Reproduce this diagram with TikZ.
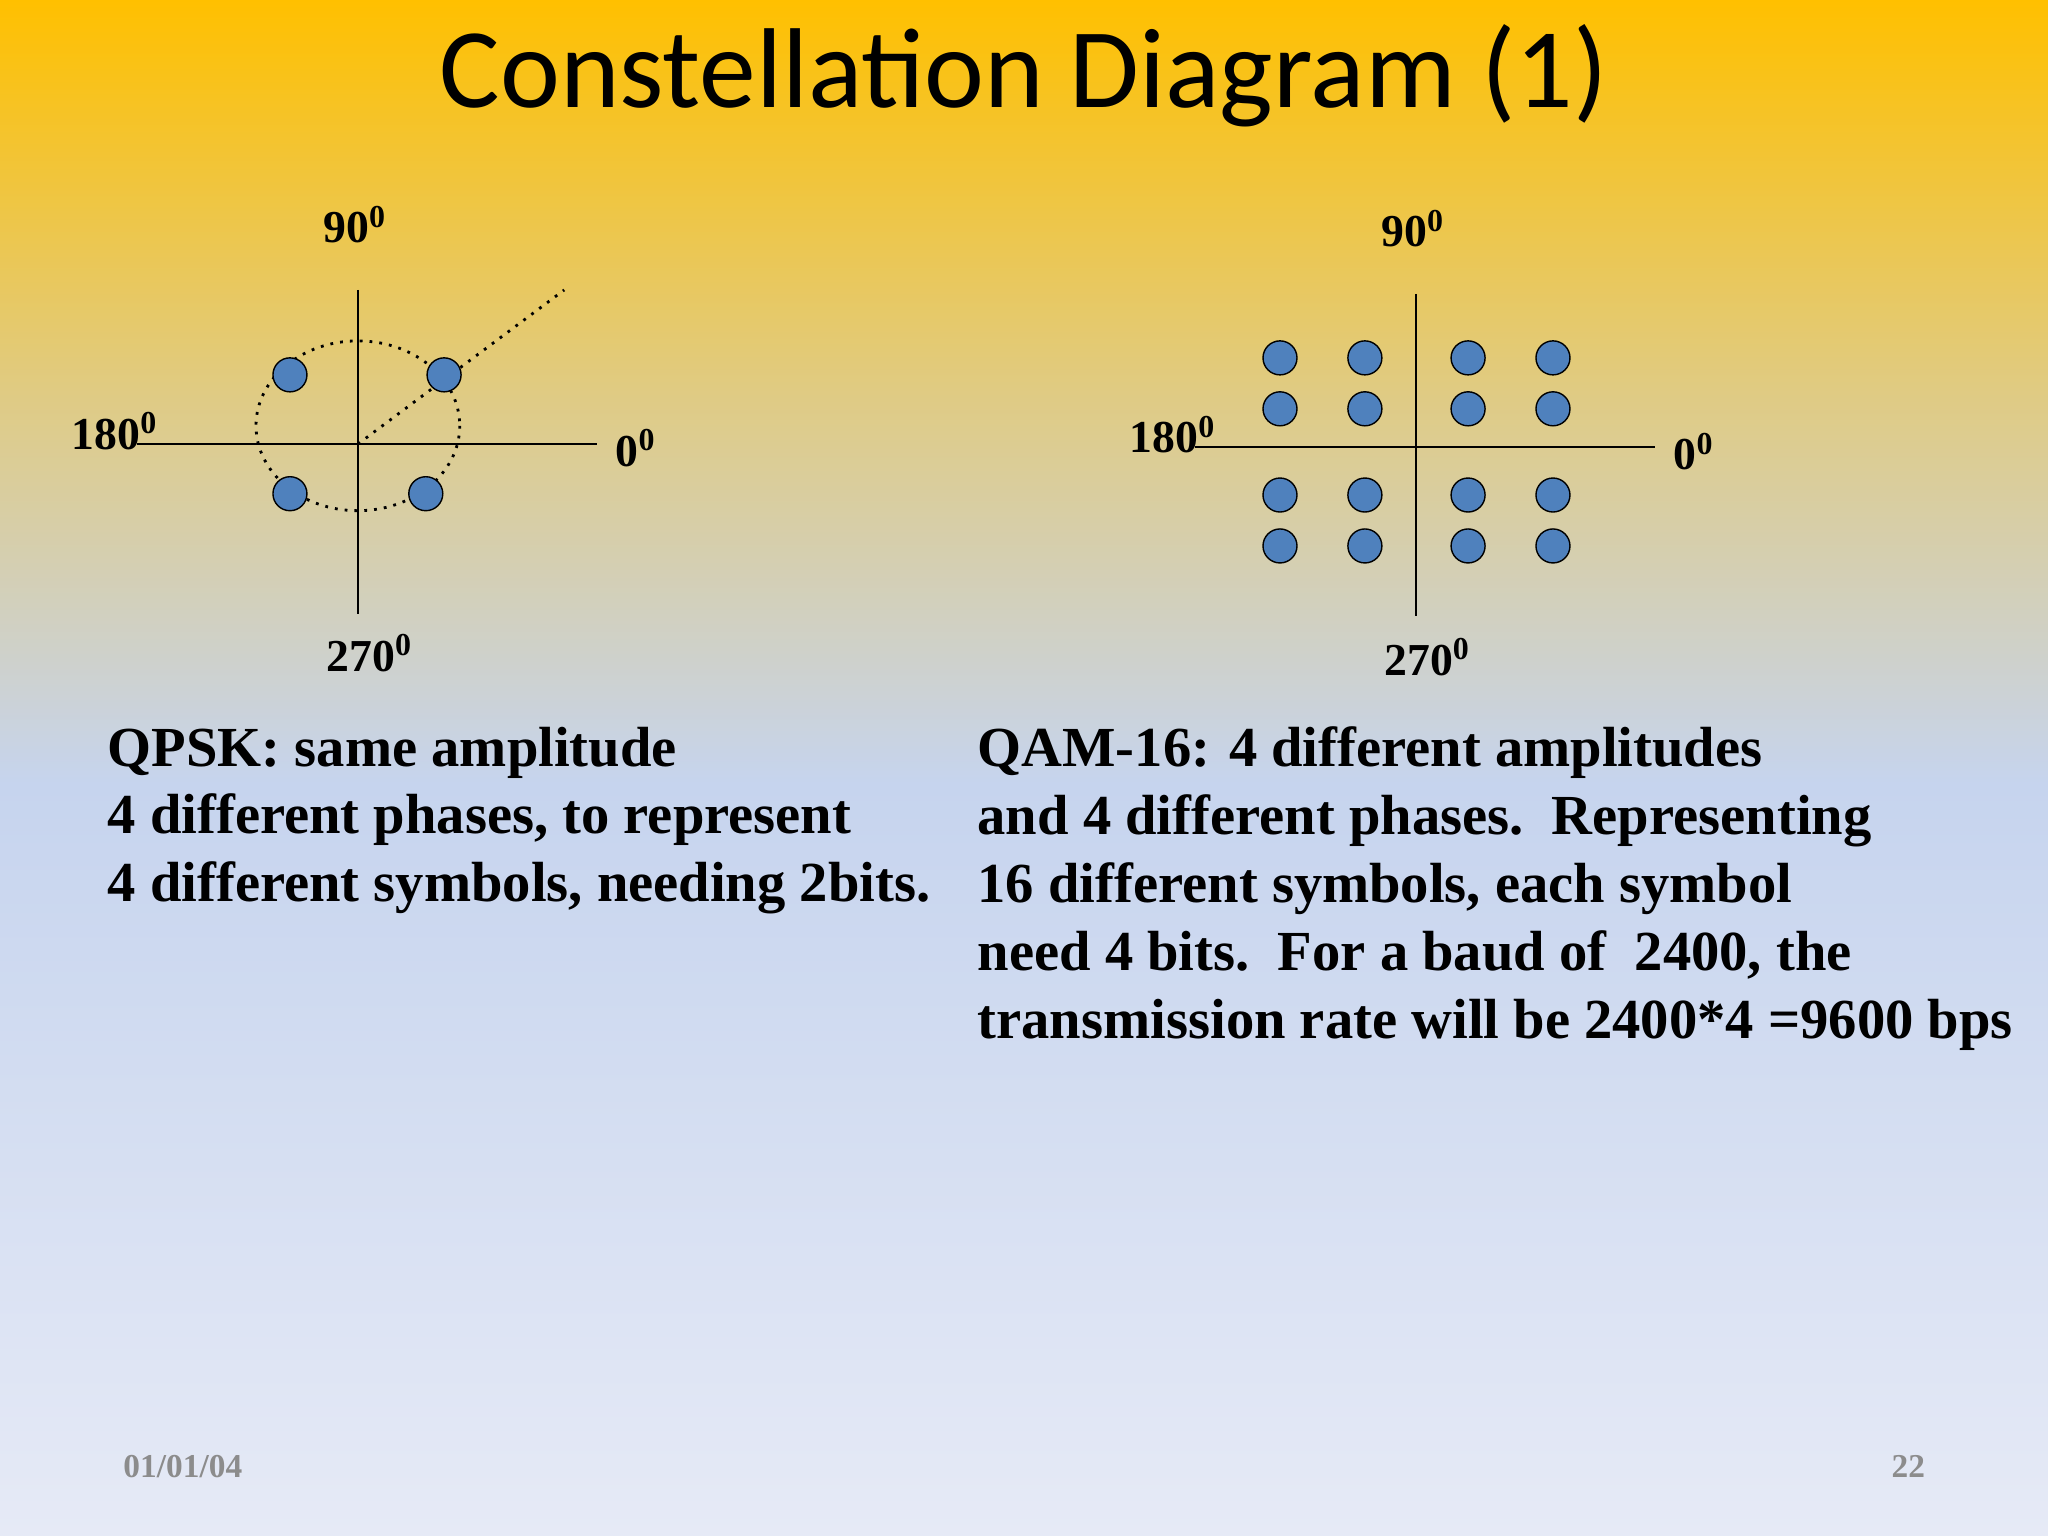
\documentclass[tikz,border=0pt]{standalone}
\usepackage{fontspec}
\setmainfont{Liberation Serif}
\newfontfamily\titlefont{Carlito}
\usetikzlibrary{positioning}
\definecolor{topgold}{HTML}{FFC000}
\definecolor{midblue}{HTML}{C6D4EE}
\definecolor{lowblue}{HTML}{E6EAF6}
\definecolor{dotblue}{HTML}{4F81BD}
\definecolor{footgray}{HTML}{8C8C8C}
\tikzset{
  pt/.style={circle, draw=black, fill=dotblue, minimum size=0.34cm, inner sep=0pt},
  axis/.style={draw=black, line width=0.6pt},
  angle/.style={font=\bfseries\fontsize{13}{15}\selectfont, inner sep=0pt},
  body/.style={font=\bfseries\fontsize{16.1}{19.3}\selectfont, align=left, anchor=north west, inner sep=0pt},
  foot/.style={font=\bfseries\fontsize{9.5}{11}\selectfont, text=footgray, inner sep=0pt}
}
\begin{document}
\begin{tikzpicture}[x=0.013061cm, y=-0.013061cm]
\shade[top color=topgold, bottom color=midblue, middle color=topgold!45!midblue] (0,0) rectangle (1568,600);
\shade[top color=midblue, bottom color=lowblue] (0,600) rectangle (1568,1176);
\useasboundingbox (0,0) rectangle (1568,1176);

\node[font=\titlefont\fontsize{32.3}{38}\selectfont, inner sep=0pt] (title) at (784,58) {Constellation Diagram (1)};

% QPSK
\coordinate (qo) at (274,340);
\coordinate (ql) at (105,340);
\coordinate (qr) at (457,340);
\coordinate (qt) at (274,222);
\coordinate (qb) at (274,470);
\coordinate (qray) at (432,222);
\draw[axis] (ql) -- (qr);
\draw[axis] (qt) -- (qb);
\draw[dotted, thick] (274,326) ellipse [x radius=78, y radius=65];
\draw[dotted, thick] (qo) -- (qray);
\node[pt] (q1) at (222,287) {};
\node[pt] (q2) at (340,287) {};
\node[pt] (q3) at (222,378) {};
\node[pt] (q4) at (326,378) {};
\node[angle] (q90) at (272,172) {90\textsuperscript{0}};
\node[angle] (q180) at (88,330) {180\textsuperscript{0}};
\node[angle] (q0) at (487,343) {0\textsuperscript{0}};
\node[angle] (q270) at (283,500) {270\textsuperscript{0}};

% QAM-16
\coordinate (ml) at (915,342);
\coordinate (mr) at (1267,342);
\coordinate (mt) at (1084,225);
\coordinate (mb) at (1084,472);
\draw[axis] (ml) -- (mr);
\draw[axis] (mt) -- (mb);
\foreach \x [count=\i] in {980,1045,1124,1189}
  \foreach \y [count=\j] in {274,313,379,418}
    \node[pt] (m\i\j) at (\x,\y) {};
\node[angle] (m90) at (1082,175) {90\textsuperscript{0}};
\node[angle] (m180) at (898,333) {180\textsuperscript{0}};
\node[angle] (m0) at (1297,346) {0\textsuperscript{0}};
\node[angle] (m270) at (1093,503) {270\textsuperscript{0}};

\node[body] (qtext) at (82,556) {QPSK: same amplitude\\4 different phases, to represent\\4 different symbols, needing 2bits.};
\node[body] (mtext) at (748,556) {QAM-16: 4 different amplitudes\\and 4 different phases.\ \ Representing\\16 different symbols, each symbol\\need 4 bits.\ \ For a baud of\ \ 2400, the\\transmission rate will be 2400*4 =9600 bps};

\node[foot] (date) at (140,1123) {01/01/04};
\node[foot] (page) at (1461,1123) {22};
\end{tikzpicture}
\end{document}
